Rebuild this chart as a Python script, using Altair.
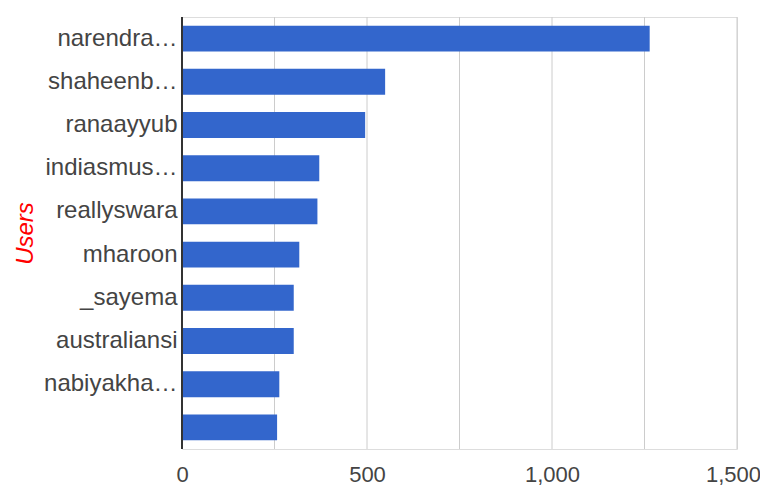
import altair as alt
import pandas as pd

users = ["narendra…", "shaheenb…", "ranaayyub", "indiasmus…", "reallyswara",
         "mharoon", "_sayema", "australiansi", "nabiyakha…", " "]
counts = [1264, 549, 495, 371, 366, 317, 302, 302, 263, 257]

df = pd.DataFrame({"user": users, "count": counts})

FONT = "Liberation Sans"

chart = alt.Chart(df).mark_bar(color="#3366cc").encode(
    x=alt.X("count:Q",
            scale=alt.Scale(domain=[0, 1500], nice=False),
            axis=alt.Axis(values=[0, 500, 1000, 1500], format=",d",
                          title=None, ticks=False, domain=False,
                          grid=False, labelFontSize=22, labelColor="#444",
                          labelFont=FONT, labelPadding=15, labelFlush=False,
                          labelOffset={"expr": "datum.value == 1500 ? -4 : 0"})),
    y=alt.Y("user:N", sort=None,
            scale=alt.Scale(paddingInner=0.4, paddingOuter=0.2),
            axis=alt.Axis(title="Users", titleColor="#ff0000",
                          titleFontStyle="italic", titleFontWeight="normal",
                          titleFont=FONT, titleFontSize=24,
                          titleX=-157, titleY=216, titleAngle=-90,
                          titleBaseline="middle", titleAlign="center",
                          ticks=False, domain=False, grid=False,
                          labelFontSize=24, labelColor="#444", labelFont=FONT,
                          labelPadding=5, labelLimit=200)),
)

grid = alt.Chart(pd.DataFrame({"g": [250, 500, 750, 1000, 1250, 1500]})).mark_rule(
    color="#cccccc", strokeWidth=1).encode(x="g:Q")

zero = alt.Chart(pd.DataFrame({"z": [0]})).mark_rule(
    color="#333333", strokeWidth=2).encode(x="z:Q")

final = alt.layer(grid, chart, zero).properties(
    width=555, height=432,
    autosize=alt.AutoSizeParams(type="none"),
    padding={"left": 174, "top": 9, "right": 23, "bottom": 37},
).configure_view(stroke=None).configure(background="white")

final.save("out.html", embed_options={"renderer": "svg", "actions": False})
